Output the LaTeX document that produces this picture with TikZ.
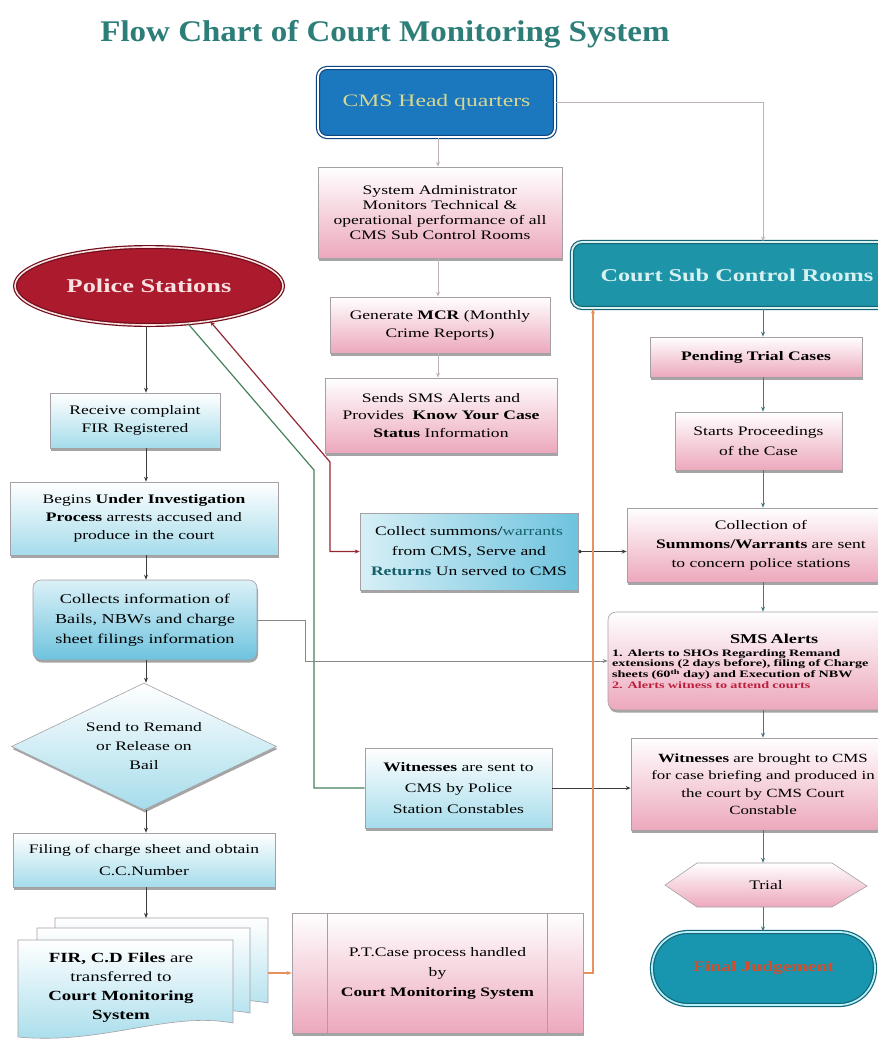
\documentclass[tikz,border=0pt]{standalone}
\usepackage{fontspec}
\setmainfont{Liberation Serif}[FakeStretch=1.35]
\newfontfamily\titlefont{Liberation Serif}[FakeStretch=1.1]
\newfontfamily\widefont{Liberation Serif}[FakeStretch=1.45]
\usetikzlibrary{arrows.meta,shapes.geometric,shadows}
\definecolor{titlec}{RGB}{45,125,120}
\definecolor{hqfill}{RGB}{28,120,190}
\definecolor{hqdraw}{RGB}{15,70,130}
\definecolor{hqtext}{RGB}{215,215,145}
\definecolor{csfill}{RGB}{30,148,168}
\definecolor{csdraw}{RGB}{20,100,115}
\definecolor{cstext}{RGB}{215,240,240}
\definecolor{psfill}{RGB}{172,26,46}
\definecolor{psdraw}{RGB}{110,12,25}
\definecolor{pstext}{RGB}{250,225,225}
\definecolor{pinkc}{RGB}{236,168,188}
\definecolor{bluec}{RGB}{165,220,235}
\definecolor{bluedeep}{RGB}{110,195,222}
\definecolor{boxdraw}{RGB}{165,160,165}
\definecolor{fjfill}{RGB}{25,150,175}
\definecolor{fjdraw}{RGB}{20,100,120}
\definecolor{fjdouble}{RGB}{180,240,250}
\definecolor{fjtext}{RGB}{215,75,40}
\definecolor{alertred}{RGB}{190,30,60}
\definecolor{tealtext}{RGB}{20,95,105}
\definecolor{lcolc}{RGB}{60,60,60}
\definecolor{hcolc}{RGB}{190,180,182}
\definecolor{rcolc}{RGB}{70,120,130}
\definecolor{redlc}{RGB}{150,40,50}
\definecolor{greenlc}{RGB}{70,130,90}
\definecolor{graylc}{RGB}{135,135,135}
\definecolor{orlc}{RGB}{232,145,95}
\begin{document}
\begin{tikzpicture}[x=1pt,y=-1pt,
  >={Stealth[length=5pt,width=4pt]},
  box/.style={draw=boxdraw, line width=0.6pt, align=center, inner sep=2pt,
    font=\fontsize{13}{18}\selectfont,
    drop shadow={shadow xshift=1pt, shadow yshift=-2.5pt, opacity=0.5, fill=black!70}},
  pinkbox/.style={box, top color=white, bottom color=pinkc},
  bluebox/.style={box, top color=white, bottom color=bluec},
  docst/.style={draw=boxdraw, line width=0.6pt, top color=white, bottom color=bluec},
  lcol/.style={draw=lcolc, line width=0.8pt},
  hcol/.style={draw=hcolc, line width=0.8pt},
  rcol/.style={draw=rcolc, line width=0.8pt},
  redl/.style={draw=redlc, line width=1.2pt},
  greenl/.style={draw=greenlc, line width=1.2pt},
  grayl/.style={draw=graylc, line width=0.8pt},
  orl/.style={draw=orlc, line width=1.2pt},
  dkl/.style={draw=lcolc, line width=0.9pt}
]
\useasboundingbox[fill=white] (0,0) rectangle (878,1047);

% title
\node[font=\titlefont\fontsize{30}{32}\selectfont\bfseries, text=titlec] (title) at (385,34) {Flow Chart of Court Monitoring System};

% headquarters column
\node[draw=hqdraw, line width=1.2pt, double=white, double distance=1.8pt, fill=hqfill,
  rounded corners=9pt, minimum width=237pt, minimum height=69pt, text=hqtext,
  font=\fontsize{17.5}{20}\selectfont] (hq) at (436.5,102.5) {CMS Head quarters};
\node[pinkbox, minimum width=244pt, minimum height=91pt, font=\fontsize{13}{15}\selectfont] (sysadm) at (440,212.5)
  {System Administrator\\ Monitors Technical \&\\ operational performance of all\\ CMS Sub Control Rooms};
\node[pinkbox, minimum width=220pt, minimum height=56pt] (mcr) at (440,325)
  {Generate \textbf{MCR} (Monthly\\ Crime Reports)};
\node[pinkbox, minimum width=232pt, minimum height=75pt, font=\fontsize{13}{17.5}\selectfont] (smsinfo) at (441,415.5)
  {Sends SMS Alerts and\\ Provides \ \textbf{Know Your Case}\\ \textbf{Status} Information};

% police column
\node[ellipse, draw=psdraw, line width=1.2pt, double=pstext, double distance=1.6pt, fill=psfill,
  minimum width=268pt, minimum height=78pt, inner sep=0pt, text=pstext,
  font=\fontsize{19.5}{22}\selectfont\bfseries] (police) at (149,286) {Police Stations};
\node[bluebox, minimum width=170pt, minimum height=55pt] (receive) at (135,420.5)
  {Receive complaint\\ FIR Registered};
\node[bluebox, minimum width=268pt, minimum height=73pt] (begins) at (144,518.5)
  {Begins \textbf{Under Investigation}\\ \textbf{Process} arrests accused and\\ produce in the court};
\node[box, rounded corners=8pt, top color=bluec!40, bottom color=bluedeep, minimum width=224pt, minimum height=80pt,
  font=\fontsize{13.5}{20}\selectfont] (collects) at (145,620)
  {Collects information of\\ Bails, NBWs and charge\\ sheet filings information};
\node[box, diamond, aspect=2.09, inner sep=0pt, minimum width=265pt, minimum height=127pt,
  top color=white, bottom color=bluec, font=\fontsize{13}{19}\selectfont] (remand) at (144,746.5)
  {Send to Remand\\ or Release on\\ Bail};
\node[bluebox, minimum width=262pt, minimum height=54pt, font=\fontsize{13}{22}\selectfont] (filing) at (144,860)
  {Filing of charge sheet and obtain\\ C.C.Number};

% document stack
\path[docst] (55,918) -- (268,918) -- (268,1003) .. controls (204,991) and (140,1025) .. (55,1017) -- cycle;
\path[docst] (37,928) -- (250,928) -- (250,1013) .. controls (186,1001) and (122,1035) .. (37,1027) -- cycle;
\path[docst] (18,940) -- (233,940) -- (233,1023) .. controls (168,1011) and (104,1045) .. (18,1037) -- cycle;
\node[align=center, font=\fontsize{14}{19}\selectfont] (docs) at (121,988)
  {\textbf{FIR, C.D Files} are\\ transferred to\\ \textbf{Court Monitoring}\\ \textbf{System}};
\coordinate (docstop) at (146,918);
\coordinate (docsr) at (268,973);

% middle column
\node[box, left color=bluec!45, right color=bluedeep, minimum width=218pt, minimum height=77pt,
  font=\fontsize{13}{20}\selectfont] (summons) at (469,551.5)
  {Collect summons/\textcolor{tealtext}{warrants}\\ from CMS, Serve and\\ \textcolor{tealtext}{\textbf{Returns}} Un served to CMS};
\node[bluebox, minimum width=187pt, minimum height=80pt, font=\fontsize{13}{21}\selectfont] (witsent) at (458.5,788)
  {\textbf{Witnesses} are sent to\\ CMS by Police\\ Station Constables};
\node[pinkbox, minimum width=291pt, minimum height=120pt, font=\fontsize{13}{20}\selectfont,
  path picture={
    \draw[boxdraw, line width=0.6pt] ([xshift=35pt]path picture bounding box.north west) -- ([xshift=35pt]path picture bounding box.south west);
    \draw[boxdraw, line width=0.6pt] ([xshift=-36pt]path picture bounding box.north east) -- ([xshift=-36pt]path picture bounding box.south east);}]
  (pt) at (437.5,973)
  {P.T.Case process handled\\ by\\ \textbf{Court Monitoring System}};

% court column
\node[draw=csdraw, line width=1.2pt, double=cstext, double distance=1.8pt, fill=csfill,
  rounded corners=10pt, minimum width=330pt, minimum height=66pt, text=cstext,
  font=\fontsize{18}{20}\selectfont\bfseries] (court) at (737,275) {Court Sub Control Rooms};
\node[pinkbox, minimum width=212pt, minimum height=40pt, font=\fontsize{13}{18}\selectfont\bfseries] (pending) at (756,357)
  {Pending Trial Cases};
\node[pinkbox, minimum width=167pt, minimum height=58pt, font=\fontsize{13}{20}\selectfont] (starts) at (758.5,441)
  {Starts Proceedings\\ of the Case};
\node[pinkbox, minimum width=268pt, minimum height=74pt, font=\fontsize{13}{19}\selectfont] (collection) at (761,545)
  {Collection of\\ \textbf{Summons/Warrants} are sent\\ to concern police stations};
\node[pinkbox, rounded corners=8pt, minimum width=297pt, minimum height=98pt, text width=289pt,
  align=left, inner sep=4pt, font=\widefont\fontsize{9.8}{10.2}\selectfont\bfseries] (smsalert) at (756.5,661)
  {\hspace*{118pt}{\normalfont\fontsize{13.5}{15}\selectfont\bfseries SMS Alerts}\\[3pt]
   1. Alerts to SHOs Regarding Remand\\
   extensions (2 days before), filing of Charge\\
   sheets (60\textsuperscript{th} day) and Execution of NBW\\
   \textcolor{alertred}{2. Alerts witness to attend courts}};
\node[pinkbox, minimum width=264pt, minimum height=92pt, font=\fontsize{12.5}{17.5}\selectfont] (witbrought) at (763,784)
  {\textbf{Witnesses} are brought to CMS\\ for case briefing and produced in\\ the court by CMS Court\\ Constable};
\path[draw=boxdraw, line width=0.6pt, top color=white, bottom color=pinkc]
  (665,885) -- (697,863) -- (832,863) -- (867,886) -- (832,907) -- (697,907) -- cycle;
\node[minimum width=202pt, minimum height=44pt, inner sep=0pt, font=\fontsize{13}{15}\selectfont] (trial) at (766,885) {Trial};
\node[draw=fjdraw, line width=1.2pt, double=fjdouble, double distance=1.8pt, fill=fjfill,
  rounded corners=36pt, minimum width=223pt, minimum height=73pt, text=fjtext,
  font=\fontsize{14.5}{16}\selectfont\bfseries] (final) at (763.5,968.5) {Final Judgement};

% axes
\coordinate (lax) at (146,0);
\coordinate (rax) at (763,0);
\coordinate (mx) at (438,0);
\coordinate (gx) at (305,0);
\coordinate (ox) at (593,0);
\coordinate (rb) at (330,462);
\coordinate (gb) at (314,470);

% HQ column connectors
\draw[hcol,->] (hq.south -| mx) -- (sysadm.north -| mx);
\draw[hcol,->] (sysadm.south -| mx) -- (mcr.north -| mx);
\draw[hcol,->] (mcr.south -| mx) -- (smsinfo.north -| mx);
\draw[hcol,->] (hq.east) -| (court.north -| rax);

% police column connectors
\draw[lcol,->] (police.south -| lax) -- (receive.north -| lax);
\draw[lcol,->] (receive.south -| lax) -- (begins.north -| lax);
\draw[lcol,->] (begins.south -| lax) -- (collects.north -| lax);
\draw[lcol,->] (collects.south -| lax) -- (remand.north -| lax);
\draw[lcol,->] (remand.south -| lax) -- (filing.north -| lax);
\draw[lcol,->] (filing.south -| lax) -- (docstop);

% court column connectors
\draw[rcol,->] (court.south -| rax) -- (pending.north -| rax);
\draw[rcol,->] (pending.south -| rax) -- (starts.north -| rax);
\draw[rcol,->] (starts.south -| rax) -- (collection.north -| rax);
\draw[rcol,->] (collection.south -| rax) -- (smsalert.north -| rax);
\draw[rcol,->] (smsalert.south -| rax) -- (witbrought.north -| rax);
\draw[rcol,->] (witbrought.south -| rax) -- (trial.north -| rax);
\draw[rcol,->] (trial.south -| rax) -- (final.north -| rax);

% cross connectors
\draw[redl,<->] (police.-30) -- (rb) |- (summons.west);
\draw[greenl] (police.-44) -- (gb) |- (witsent.west);
\draw[grayl,->] (collects.east) -- (collects.east -| gx) |- (smsalert.west);
\draw[dkl,{Circle[length=3.5pt]}->] (summons.east) -- (summons.east -| collection.west);
\draw[dkl,->] (witsent.east) -- (witsent.east -| witbrought.west);
\draw[orl,->] (pt.east) -| (court.south -| ox);
\draw[orl,->] (docsr) -- (pt.west);
\end{tikzpicture}
\end{document}
